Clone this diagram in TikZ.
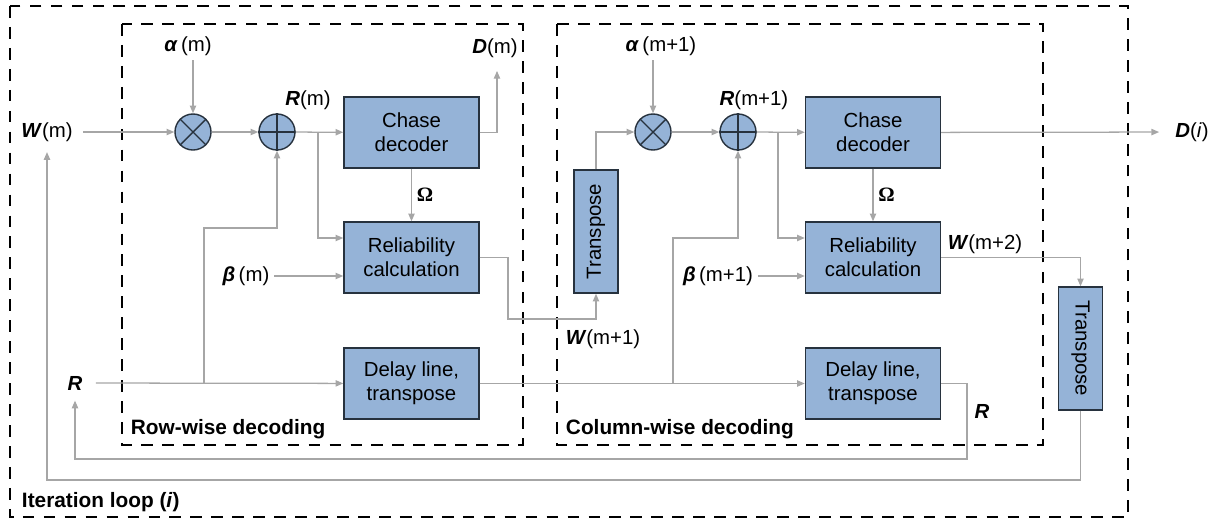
\documentclass[tikz,border=0pt]{standalone}
\usepackage{fontspec}
\setmainfont{Liberation Sans}
\newfontfamily\omegafont{Liberation Serif}
\usetikzlibrary{arrows.meta}
\definecolor{boxblue}{HTML}{95B3D7}
\definecolor{boxline}{HTML}{27323E}
\definecolor{sigline}{HTML}{A6A6A6}
\newcommand{\bv}[1]{\textbf{\textit{#1}}}

\begin{document}
\begin{tikzpicture}[x=0.025cm,y=-0.025cm,font=\fontsize{14.5}{17}\selectfont,
  blk/.style={draw=boxline,line width=1pt,fill=boxblue,minimum width=3.375cm,minimum height=1.775cm,align=center,inner sep=0pt},
  tbox/.style={draw=boxline,line width=1pt,fill=boxblue,minimum width=1.1cm,minimum height=3.075cm,inner sep=0pt},
  op/.style={draw=boxline,line width=1pt,fill=boxblue,circle,minimum size=0.9cm,inner sep=0pt},
  sig/.style={draw=sigline,line width=0.9pt,-{Triangle[length=5.5pt,width=4.5pt]}},
  frame/.style={draw,line width=2.1pt,dash pattern=on 8.3pt off 6.6pt},
  grp/.style={font=\bfseries\fontsize{14.8}{17}\selectfont,anchor=west}]
\useasboundingbox (0,0) rectangle (1216,520);

% dashed groups
\draw[frame] (10,6) rectangle (1128,517);
\draw[frame] (122,24) rectangle (523,445);
\draw[frame] (557,24) rectangle (1043,445);
\node[grp] (rowlbl) at (126,429) {Row-wise decoding};
\node[grp] (collbl) at (561,429) {Column-wise decoding};
\node[grp] (looplbl) at (17,502) {Iteration loop (\textit{i})};

% blocks
\node[blk] (chaseA) at (411.5,132.5) {Chase\\decoder};
\node[blk] (relA) at (411.5,257.5) {Reliability\\calculation};
\node[blk] (delayA) at (411.5,383.5) {Delay line,\\transpose};
\node[blk] (chaseB) at (873,132.5) {Chase\\decoder};
\node[blk] (relB) at (873,257.5) {Reliability\\calculation};
\node[blk] (delayB) at (873,383.5) {Delay line,\\transpose};
\node[tbox] (transA) at (596,231.5) {\rotatebox{90}{Transpose}};
\node[tbox] (transB) at (1080.5,348.5) {\rotatebox{-90}{Transpose}};

% multipliers and adders
\node[op] (multA) at (193,132) {};
\node[op] (addA) at (277,132) {};
\node[op] (multB) at (653,132) {};
\node[op] (addB) at (738,132) {};
\draw[boxline,line width=1pt] (multA.north east) -- (multA.south west) (multA.north west) -- (multA.south east);
\draw[boxline,line width=1pt] (multB.north east) -- (multB.south west) (multB.north west) -- (multB.south east);
\draw[boxline,line width=1pt] (addA.north) -- (addA.south) (addA.west) -- (addA.east);
\draw[boxline,line width=1pt] (addB.north) -- (addB.south) (addB.west) -- (addB.east);

% signal labels
\node (wm) at (47,132) {\bv{W}(m)};
\node (alphaA) at (188,46) {\bv{α}\,(m)};
\node (rmA) at (308,100) {\bv{R}(m)};
\node (dmA) at (495,48) {\bv{D}(m)};
\node (betaA) at (246,276) {\bv{β}\,(m)};
\node (rin) at (75,383) {\bv{R}};
\node (wA) at (603,339) {\bv{W}(m+1)};
\node (alphaB) at (661,46) {\bv{α}\,(m+1)};
\node (rmB) at (754,100) {\bv{R}(m+1)};
\node (betaB) at (718,276) {\bv{β}\,(m+1)};
\node (wB) at (985,244) {\bv{W}(m+2)};
\node (rout) at (982,411) {\bv{R}};
\node (di) at (1192,132) {\bv{D}(\textit{i})};

\coordinate (splitA) at (318,132);
\coordinate (tapA) at (204,383);
\coordinate (splitB) at (778,132);
\coordinate (tapB) at (673,383);

% row-wise half
\draw[sig,shorten <=4pt] (wm) -- (multA);
\draw[sig] (alphaA.south -| multA) -- (multA);
\draw[sig] (multA) -- (addA);
\draw[sig] (addA) -- (chaseA);
\draw[sig] (splitA) |- (relA.west |- 0,238);
\draw[sig,shorten <=6pt] (rin) -- (delayA);
\draw[sig] (tapA) |- (277,228) -- (addA);
\draw[sig] (betaA) -- (relA.west |- betaA);
\draw[sig] (chaseA) -- node[right,font=\omegafont\bfseries\fontsize{14.5}{17}\selectfont] {Ω} (relA);
\draw[sig,shorten >=6pt] (chaseA) -| (dmA.south -| 497,0);
\draw[sig] (relA) -| (508,319) -| (transA);

% column-wise half
\draw[sig] (transA) |- (multB);
\draw[sig] (alphaB.south -| multB) -- (multB);
\draw[sig] (multB) -- (addB);
\draw[sig] (addB) -- (chaseB);
\draw[sig] (splitB) |- (relB.west |- 0,238);
\draw[sig] (delayA) -- (delayB);
\draw[sig] (tapB) |- (738,238) -- (addB);
\draw[sig] (betaB) -- (relB.west |- betaB);
\draw[sig] (chaseB) -- node[right,font=\omegafont\bfseries\fontsize{14.5}{17}\selectfont] {Ω} (relB);
\draw[sig,shorten >=8pt] (chaseB) -- (di);
\draw[sig] (relB) -| (transB);

% iteration feedback
\draw[sig,shorten >=4pt] (delayB) -| (967,459) -| (rin);
\draw[sig,shorten >=4pt] (transB) |- (46,480) -| (wm);
\end{tikzpicture}
\end{document}
